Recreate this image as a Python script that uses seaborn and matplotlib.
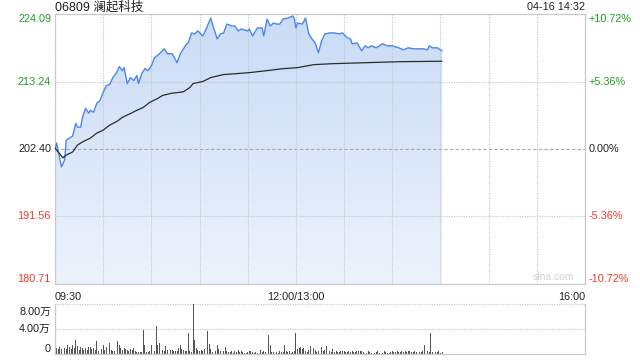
import numpy as np
import pandas as pd
import matplotlib
matplotlib.use("Agg")
import matplotlib.pyplot as plt
import seaborn as sns
from matplotlib.colors import LinearSegmentedColormap
from matplotlib.transforms import ScaledTranslation

# ---------------- data ----------------
title_text = "06809 澜起科技"
stamp_text = "04-16 14:32"
prev_close = 202.40
price_ticks = [180.71, 191.56, 202.40, 213.24, 224.09]
pct_labels = ["-10.72%", "-5.36%", "0.00%", "+5.36%", "+10.72%"]
time_labels = ["09:30", "12:00/13:00", "16:00"]
time_label_minutes = [0, 150, 330]      # trading minutes since the open
session_minutes = 330

price_minutes = [0, 1, 4, 6, 7, 9, 11, 13, 14, 16, 17, 19, 21, 22, 24, 26, 28, 30, 32, 34,
                 36, 38, 40, 42, 43, 45, 47, 49, 51, 52, 54, 56, 58, 60, 62, 65, 68, 70, 73, 76,
                 78, 80, 82, 83, 85, 87, 89, 92, 93, 97, 98, 101, 103, 105, 107, 110, 112, 114, 116, 120,
                 121, 123, 126, 129, 130, 132, 134, 136, 138, 140, 142, 145, 148, 149, 150, 151, 154, 156, 158, 160,
                 162, 164, 166, 168, 171, 174, 177, 179, 182, 184, 185, 188, 191, 193, 195, 197, 200, 202, 204, 207,
                 210, 214, 217, 220, 223, 226, 229, 232, 233, 235, 238, 241]
price_values = [202.24, 203.36, 199.53, 200.65, 203.83, 204.15, 204.47, 206.54, 205.91, 205.91,
                207.34, 208.94, 208.14, 208.62, 208.30, 209.73, 210.21, 211.49, 212.60, 212.76,
                213.88, 214.51, 215.63, 214.99, 215.47, 212.92, 213.88, 213.40, 214.20, 212.92,
                214.51, 215.31, 214.99, 215.79, 217.07, 217.70, 218.50, 217.70, 217.70, 216.27,
                217.70, 218.50, 219.30, 219.46, 221.05, 220.89, 221.37, 220.57, 221.05, 223.44,
                222.48, 220.09, 220.89, 221.05, 222.48, 222.17, 222.17, 221.37, 221.69, 221.37,
                221.69, 220.57, 221.85, 221.85, 220.57, 223.28, 222.17, 222.64, 222.48, 222.48,
                223.28, 223.44, 223.76, 223.44, 221.85, 222.64, 222.48, 223.44, 220.89, 220.09,
                219.46, 217.86, 219.78, 220.89, 221.05, 221.05, 220.89, 221.05, 220.25, 220.09,
                219.30, 219.46, 218.18, 218.98, 218.66, 218.98, 218.66, 218.98, 219.30, 218.98,
                218.98, 218.66, 218.34, 218.66, 218.50, 218.50, 218.50, 218.34, 218.98, 218.66,
                218.66, 218.18]

avg_minutes = [0, 2, 5, 7, 11, 14, 17, 22, 26, 30, 34, 39, 42, 47, 51, 55, 59, 64, 67, 72,
               77, 80, 84, 86, 92, 97, 105, 113, 121, 132, 142, 151, 161, 173, 194, 215, 241]
avg_values = [202.56, 201.92, 200.97, 201.44, 201.92, 203.04, 203.52, 204.15, 204.95, 205.43,
              206.23, 206.90, 207.50, 208.10, 208.62, 209.09, 209.89, 210.53, 211.01, 211.33,
              211.49, 211.60, 212.28, 212.92, 213.24, 213.88, 214.36, 214.51, 214.67, 214.99,
              215.31, 215.47, 215.95, 216.11, 216.27, 216.43, 216.50]

# volume per minute, in units of 万 shares (minute 0 = 09:30)
volume_wan = [0.85, 0.96, 0.80, 1.07, 0.75, 2.13, 0.96, 0.85, 1.49, 1.07,
              0.85, 1.39, 0.96, 2.29, 1.23, 0.70, 1.12, 0.96, 0.69, 0.96,
              0.60, 1.12, 1.17, 0.85, 0.96, 0.69, 2.13, 0.55, 0.96, 0.80,
              1.39, 0.69, 1.17, 0.96, 1.76, 0.69, 0.45, 0.53, 1.23, 2.03,
              1.49, 0.96, 0.60, 0.96, 0.80, 0.69, 0.50, 0.85, 0.64, 0.96,
              0.53, 0.40, 0.32, 0.32, 0.30, 3.89, 1.39, 0.32, 0.40, 0.53,
              1.39, 2.29, 0.43, 4.53, 1.39, 1.76, 2.56, 0.69, 0.53, 1.23,
              0.60, 1.07, 0.64, 0.69, 0.43, 0.53, 0.45, 0.96, 1.49, 0.80,
              0.69, 0.45, 0.53, 3.36, 0.53, 0.40, 8.00, 2.29, 0.96, 0.69,
              0.53, 0.69, 0.50, 0.85, 0.96, 3.73, 1.60, 0.85, 0.40, 0.43,
              0.53, 1.49, 0.85, 0.43, 0.35, 0.53, 1.17, 0.53, 0.32, 0.30,
              0.43, 0.16, 0.43, 0.30, 0.69, 0.25, 0.43, 0.32, 0.20, 0.16,
              0.25, 0.43, 0.43, 0.27, 0.20, 0.32, 0.16, 0.25, 0.69, 0.32,
              0.43, 0.25, 0.32, 3.09, 1.49, 0.32, 0.25, 0.16, 0.32, 0.16,
              0.43, 0.25, 0.32, 1.39, 0.43, 0.32, 0.53, 0.16, 0.32, 0.43,
              3.36, 0.85, 0.96, 1.07, 0.85, 0.96, 0.53, 0.40, 0.69, 1.23,
              2.99, 0.96, 0.69, 0.40, 0.53, 0.85, 1.07, 0.43, 0.69, 1.23,
              0.85, 0.53, 0.35, 0.85, 0.32, 0.53, 0.32, 0.25, 0.53, 0.43,
              0.43, 0.32, 0.25, 0.43, 0.32, 0.43, 0.32, 0.25, 0.53, 0.53,
              0.43, 0.53, 0.25, 0.32, 0.16, 0.43, 0.32, 0.20, 0.43, 0.16,
              0.32, 0.43, 0.20, 0.32, 0.16, 0.43, 0.32, 0.20, 0.16, 0.32,
              0.43, 0.32, 0.25, 0.53, 0.32, 0.32, 0.43, 0.25, 0.53, 0.32,
              0.43, 0.53, 0.32, 0.25, 0.43, 0.32, 0.53, 0.32, 0.25, 0.43,
              1.49, 0.43, 0.53, 0.25, 3.36, 0.32, 0.16, 0.32, 0.25, 0.53,
              0.16, 0.32]
vol_ticks = [0, 4, 8]
vol_labels = ["0", "4.00万", "8.00万"]

# ---------------- style ----------------
sns.set_theme(style="white")
FONT = ["Liberation Sans", "Noto Sans CJK SC", "DejaVu Sans"]
plt.rcParams["font.family"] = FONT

GREEN = "#1f9e1f"
RED = "#f03a2e"
DARK = "#222222"
BORDER = "#c9c9c9"
GRID = "#c4c4c4"
FS = 7.8

fig = plt.figure(figsize=(6.4, 3.6), dpi=100)
fig.patch.set_facecolor("white")
ax = fig.add_axes([55 / 640, 76 / 360, 530 / 640, 270 / 360])
axv = fig.add_axes([55 / 640, 6 / 360, 530 / 640, 50 / 360])

ymin, ymax = price_ticks[0], price_ticks[-1]

# gradient area under the price line
poly = ax.fill_between(price_minutes, price_values, ymin, color="none", lw=0)
cmap = LinearSegmentedColormap.from_list("fillgrad", ["#edf3fc", "#c9dbf6"])
grad = np.linspace(1, 0, 256).reshape(-1, 1)
im = ax.imshow(grad, cmap=cmap, aspect="auto", origin="upper",
               extent=[price_minutes[0], price_minutes[-1], ymin, ymax], zorder=1)
im.set_clip_path(poly.get_paths()[0], transform=ax.transData)

# grid
for m in range(30, session_minutes, 30):
    ax.axvline(m, color=GRID, lw=0.8, ls=(0, (1, 1.2)), zorder=2)
for p in price_ticks[1:-1]:
    if abs(p - prev_close) < 1e-6:
        ax.axhline(p, color="#a8a8a8", lw=0.8, ls=(0, (3, 2)), zorder=2)
    else:
        ax.axhline(p, color=GRID, lw=0.8, ls=(0, (1, 1.2)), zorder=2)

price_df = pd.DataFrame({"minute": price_minutes, "price": price_values})
avg_df = pd.DataFrame({"minute": avg_minutes, "avg": avg_values})
sns.lineplot(data=price_df, x="minute", y="price", ax=ax, color="#4b87ea", lw=1.0, zorder=4)
sns.lineplot(data=avg_df, x="minute", y="avg", ax=ax, color="#2b2b2b", lw=0.9, zorder=4)

ax.set_xlim(0, session_minutes)
ax.set_ylim(ymin, ymax)
ax.set_xticks([])
ax.set_yticks([])
ax.set_xlabel("")
ax.set_ylabel("")
for s in ax.spines.values():
    s.set_color(BORDER)
    s.set_linewidth(0.9)
    s.set_visible(True)

ytr = ax.get_yaxis_transform()
for i, (p, pl) in enumerate(zip(price_ticks, pct_labels)):
    if p > prev_close + 1e-6:
        col = GREEN
    elif p < prev_close - 1e-6:
        col = RED
    else:
        col = DARK
    va = "top" if i == len(price_ticks) - 1 else ("bottom" if i == 0 else "center")
    ax.text(-0.0075, p, f"{p:.2f}", transform=ytr, ha="right", va=va,
            fontsize=FS, color=col, family=FONT)
    ax.text(1.0075, p, pl, transform=ytr, ha="left", va=va,
            fontsize=FS, color=col, family=FONT)

xtr = ax.get_xaxis_transform()
for lbl, m, ha in zip(time_labels, time_label_minutes, ["left", "center", "right"]):
    ax.text(m, -0.048, lbl, transform=xtr, ha=ha, va="center", fontsize=FS,
            color=DARK, family=FONT)

ax.text(0.98, 0.006, "sina.com", transform=ax.transAxes, ha="right", va="bottom",
        fontsize=7.5, color="#d2d2d2", family=FONT)

fig.text(55 / 640, 1 - 7 / 360, title_text, ha="left", va="center", fontsize=9,
         color=DARK, family=FONT)
fig.text(585 / 640, 1 - 7 / 360, stamp_text, ha="right", va="center", fontsize=FS,
         color=DARK, family=FONT)

# ---------------- volume panel ----------------
vol_df = pd.DataFrame({"minute": np.arange(len(volume_wan)), "vol": volume_wan})
sns.barplot(data=vol_df, x="minute", y="vol", ax=axv, native_scale=True,
            color="#555555", saturation=1, width=0.55, errorbar=None, linewidth=0)
axv.set_xlim(0, session_minutes)
axv.set_ylim(0, vol_ticks[-1])
axv.set_xticks([])
axv.set_yticks([])
axv.set_xlabel("")
axv.set_ylabel("")
for t in vol_ticks[1:]:
    axv.axhline(t, color=GRID, lw=0.8, ls=(0, (1, 1.2)), zorder=0, clip_on=False)
for name, s in axv.spines.items():
    s.set_color(BORDER)
    s.set_linewidth(0.9)
    s.set_visible(name != "top")

vtr = axv.get_yaxis_transform()
for i, (t, lbl) in enumerate(zip(vol_ticks, vol_labels)):
    va = "top" if i == len(vol_ticks) - 1 else ("bottom" if i == 0 else "center")
    tr = vtr
    if i == len(vol_ticks) - 1:
        tr = vtr + ScaledTranslation(0, -2.5 / 100, fig.dpi_scale_trans)
    axv.text(-0.0075, t, lbl, transform=tr, ha="right", va=va, fontsize=FS,
             color=DARK, family=FONT)

fig.savefig("out.png", dpi=100, facecolor="white")
